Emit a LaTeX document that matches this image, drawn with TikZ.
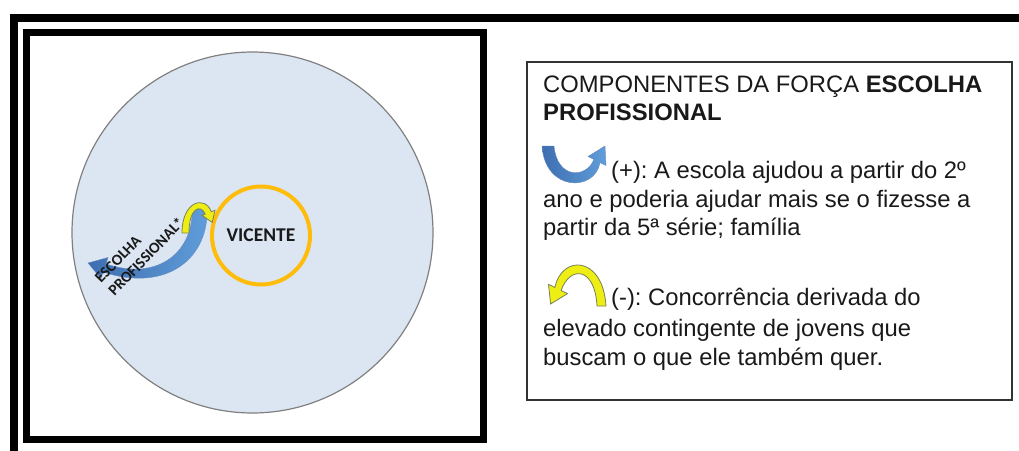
\documentclass[tikz,border=0pt]{standalone}
\usepackage{fontspec}
\setmainfont{Liberation Sans}
\newfontfamily\calib{Carlito}
\definecolor{circfill}{RGB}{220,230,242}
\definecolor{circline}{RGB}{128,128,128}
\definecolor{vicorange}{RGB}{255,188,10}
\definecolor{bluedark}{RGB}{62,110,176}
\definecolor{bluelight}{RGB}{96,158,218}
\definecolor{yelfill}{RGB}{238,238,20}
\definecolor{yelline}{RGB}{120,128,90}
\definecolor{txt}{RGB}{25,25,25}
\frenchspacing
\begin{document}
\begin{tikzpicture}[x=1pt,y=-1pt,
  frameline/.style={draw=black, line width=8},
  innerframe/.style={draw=black, line width=7},
  legtext/.style={anchor=base west, inner sep=0, font=\fontsize{23.8}{28.5}\selectfont, text=txt},
  rotlabel/.style={anchor=base west, rotate=46, inner sep=0, font=\calib\bfseries\fontsize{15.5}{18}\selectfont, text=txt},
  bluearrow/.style={left color=bluedark, right color=bluelight, draw=bluedark!80, line width=0.4},
  yelarrow/.style={fill=yelfill, draw=yelline, line width=0.8},
]
\useasboundingbox (0,0) rectangle (1019,450);
\clip (0,0) rectangle (1019,450);
% frames
\draw[frameline] (13.5,17.5) rectangle (1050,480);
\draw[innerframe] (26.5,32.5) rectangle (483.5,439.5);
% big circle
\node[circle, draw=circline, line width=1.2, fill=circfill, minimum size=361, inner sep=0] (field) at (252.5,232.5) {};
% Vicente circle
\node[circle, draw=vicorange, line width=4, minimum size=98, inner sep=0,
      font=\calib\bfseries\fontsize{19.5}{20}\selectfont, text=txt] (vic) at (261,235.5) {VICENTE};
% blue curved arrow
\shade[bluearrow] (192,206) .. controls (195,250) and (160,282) .. (106,264)
  -- (108,257.5) -- (88,263) -- (101,278.5) -- (103,272)
  .. controls (167,293) and (210,258) .. (207,206) -- cycle;
% yellow arrow
\path[yelarrow] (182,233) .. controls (182,201) and (205,195) .. (211.3,211.7)
  -- (215,210.3) -- (212.2,222.4) -- (202,215.3) -- (205.2,214.1)
  .. controls (201,204) and (189,207) .. (189,233) -- cycle;
% rotated label
\node[rotlabel] (esc1) at (101,284) {ESCOLHA};
\node[rotlabel] (esc2) at (114.5,297) {PROFISSIONAL*};
% legend box
\node[draw=black!80, line width=1.5, minimum width=485, minimum height=338, inner sep=0] (legend) at (769.5,231) {};
% legend icons
\shade[bluearrow] (542,146) .. controls (545,192) and (595,192) .. (600,162.6)
  -- (606,165.5) -- (605,146) -- (588,156.5) -- (594,159.4)
  .. controls (586,179) and (557,179) .. (554,146) -- cycle;
\path[yelarrow] (606,306) .. controls (603,256) and (562,254) .. (554.9,287.4)
  -- (548.5,284.4) -- (550.6,304) -- (567.5,293.6) -- (561.1,290.6)
  .. controls (570,265) and (595,267) .. (597,306) -- cycle;
% legend text
\node[legtext] (l1) at (543,92) {COMPONENTES DA FORÇA \textbf{ESCOLHA}};
\node[legtext] (l2) at (543,120) {\textbf{PROFISSIONAL}};
\node[legtext] (l3) at (611,178) {(+): A escola ajudou a partir do 2º};
\node[legtext] (l4) at (543,207) {ano e poderia ajudar mais se o fizesse a};
\node[legtext] (l5) at (543,235) {partir da 5ª série; família};
\node[legtext] (l6) at (611,305) {(-): Concorrência derivada do};
\node[legtext] (l7) at (543,336) {elevado contingente de jovens que};
\node[legtext] (l8) at (543,365) {buscam o que ele também quer.};
\end{tikzpicture}
\end{document}
